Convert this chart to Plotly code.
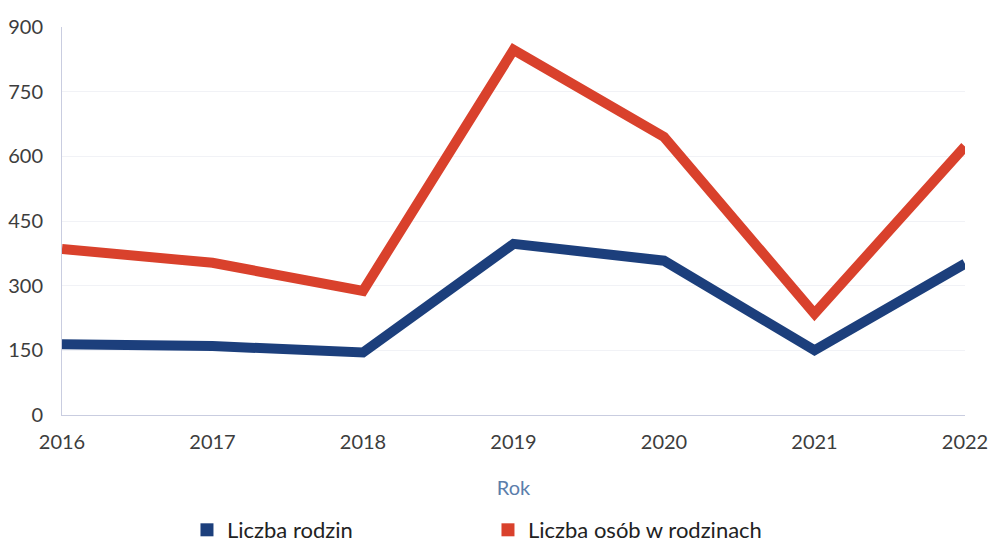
import plotly.graph_objects as go

years = [2016, 2017, 2018, 2019, 2020, 2021, 2022]
year_labels = ["2016", "2017", "2018", "2019", "2020", "2021", "2022"]
rodziny = [164, 160, 145, 397, 358, 150, 351]
osoby = [385, 353, 288, 847, 645, 235, 623]
y_ticks = [0, 150, 300, 450, 600, 750, 900]

NAVY = "#1c3f7c"
RED = "#d9412c"
FONT = "Lato, 'Open Sans', sans-serif"

fig = go.Figure()
fig.add_trace(go.Scatter(x=years, y=osoby, mode="lines", line=dict(color=RED, width=10),
                         showlegend=False, name="Liczba osób w rodzinach"))
fig.add_trace(go.Scatter(x=years, y=rodziny, mode="lines", line=dict(color=NAVY, width=10),
                         showlegend=False, name="Liczba rodzin"))
# legend entries drawn as filled squares
fig.add_trace(go.Scatter(x=[None], y=[None], mode="markers", name="Liczba rodzin",
                         marker=dict(symbol="square", size=13, color=NAVY)))
fig.add_trace(go.Scatter(x=[None], y=[None], mode="markers", name="Liczba osób w rodzinach",
                         marker=dict(symbol="square", size=13, color=RED)))

fig.update_layout(
    width=989, height=542,
    margin=dict(l=62, r=24, t=27, b=127, autoexpand=False),
    paper_bgcolor="white", plot_bgcolor="white",
    font=dict(family=FONT, size=20, color="#3d3d3d"),
    xaxis=dict(range=[2016, 2022], tickvals=years, ticktext=year_labels,
               showgrid=False, zeroline=False, automargin=False,
               showline=True, linecolor="#c9cde0", linewidth=1, ticks="",
               ticklabelstandoff=9,
               tickfont=dict(family=FONT, size=20, color="#3d3d3d"),
               title=dict(text="Rok", font=dict(family=FONT, size=20, color="#5b7eab"),
                          standoff=28)),
    yaxis=dict(range=[0, 900], tickvals=y_ticks, showgrid=True, gridcolor="#f1f2f6",
               zeroline=False, showline=True, linecolor="#c9cde0", linewidth=1,
               ticks="", ticklabelstandoff=14, automargin=False,
               tickfont=dict(family=FONT, size=20, color="#3d3d3d")),
    legend=dict(orientation="h", x=0.1384, xanchor="left", y=-0.2964, yanchor="middle",
                entrywidth=256, entrywidthmode="pixels", itemwidth=30,
                font=dict(family=FONT, size=22, color="#222222")),
)

fig.write_html("out.html", config={"displayModeBar": False},
               post_script="document.body.style.margin='0px';")
